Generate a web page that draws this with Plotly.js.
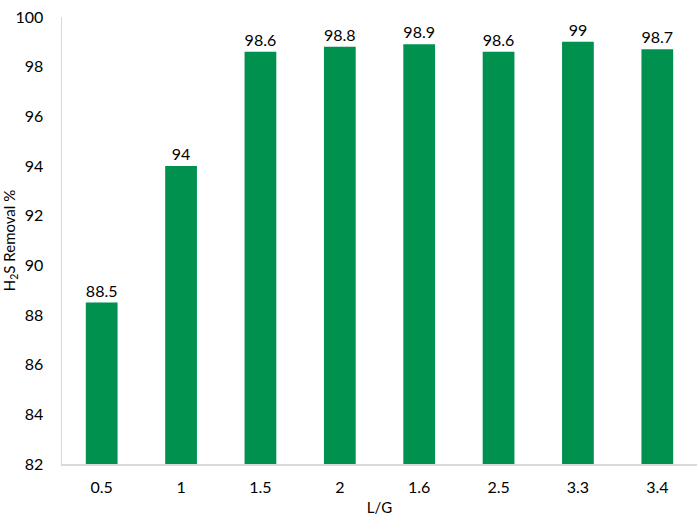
<!DOCTYPE html>
<html>
<head>
<meta charset="utf-8">
<script src="https://cdn.plot.ly/plotly-3.0.1.min.js"></script>
<style>
  html, body { margin: 0; padding: 0; background: #fff; }
  #chart { width: 699px; height: 529px; }
</style>
</head>
<body>
<div id="chart"></div>
<script>
// L/G ratios as shown on the x axis (kept as categories, in the original order)
const ratios = ['0.5', '1', '1.5', '2', '1.6', '2.5', '3.3', '3.4'];
const removal = [88.5, 94, 98.6, 98.8, 98.9, 98.6, 99, 98.7];
const yTicks = [82, 84, 86, 88, 90, 92, 94, 96, 98, 100];

const trace = {
    type: 'bar',
    x: ratios,
    y: removal,
    marker: { color: '#00914F' },
    width: 0.4,
    text: removal.map(String),
    textposition: 'outside',
    cliponaxis: false,
    textfont: { size: 16, color: '#000' },
    hoverinfo: 'x+y'
};

const layout = {
    width: 699,
    height: 529,
    paper_bgcolor: '#fff',
    plot_bgcolor: '#fff',
    font: { family: 'Lato, "Open Sans", sans-serif', color: '#000', size: 16 },
    margin: { l: 62, r: 2, t: 17, b: 65 },
    showlegend: false,
    xaxis: {
        type: 'category',
        title: { text: 'L/G', font: { size: 15 }, standoff: 8 },
        showline: true,
        linecolor: '#d9d9d9',
        linewidth: 1.5,
        showgrid: false,
        ticks: '',
        ticklabelstandoff: 8,
        tickfont: { size: 16 }
    },
    yaxis: {
        title: { text: 'H<sub>2</sub>S Removal %', font: { size: 15 }, standoff: 14 },
        range: [82, 100],
        tickvals: yTicks,
        showline: true,
        linecolor: '#d9d9d9',
        linewidth: 1.5,
        showgrid: false,
        zeroline: false,
        ticks: '',
        ticklabelstandoff: 14,
        tickfont: { size: 16 }
    }
};

Plotly.newPlot('chart', [trace], layout, { displayModeBar: false, staticPlot: true });
</script>
</body>
</html>
